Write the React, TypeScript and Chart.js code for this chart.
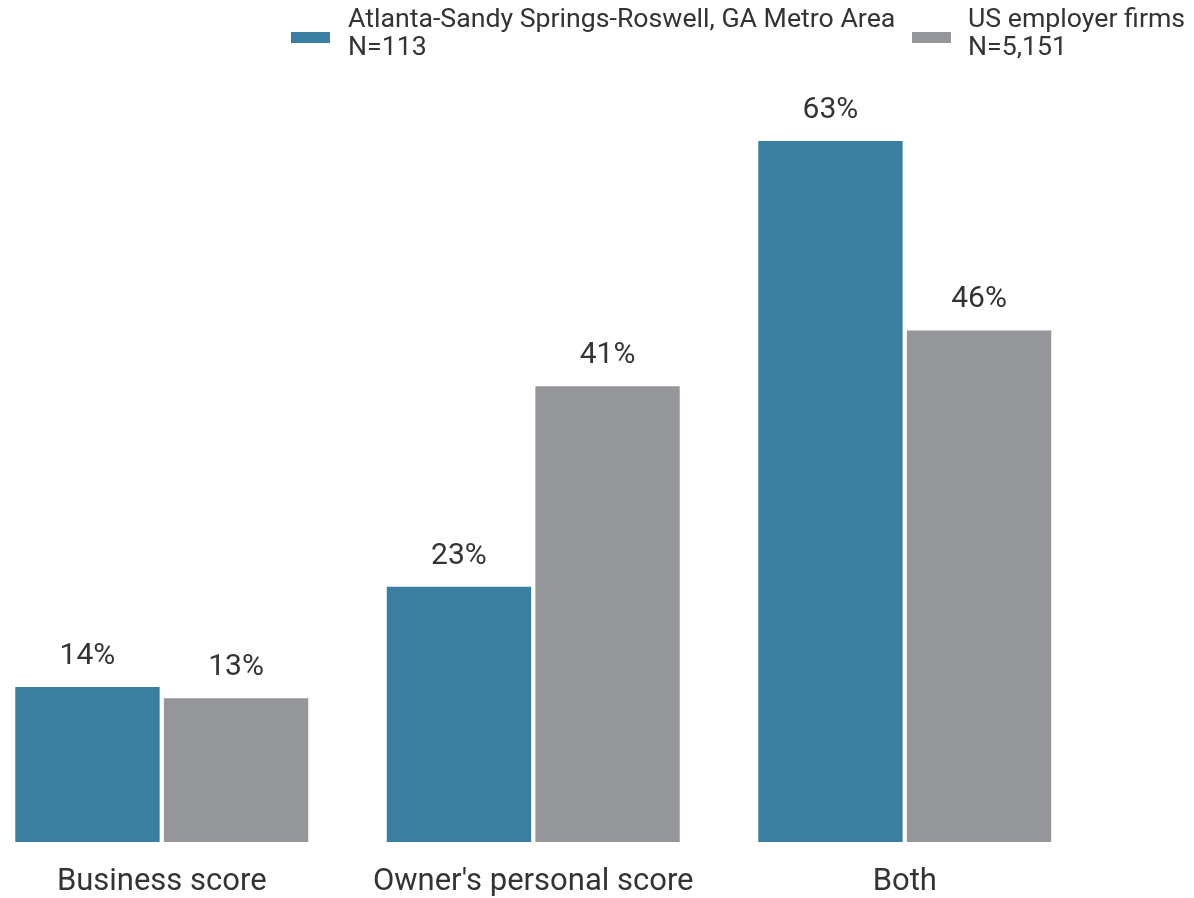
import React, { useEffect, useRef } from "react";
import { Chart, registerables } from "chart.js";

Chart.register(...registerables);

const categories = ["Business score", "Owner's personal score", "Both"];
const atlantaValues = [14, 23, 63];
const usValues = [13, 41, 46];
const legendLabels = [
  ["Atlanta-Sandy Springs-Roswell, GA Metro Area", "N=113"],
  ["US employer firms", "N=5,151"],
];
const colors = ["#3a7ea1", "#959699"];
const textColor = "#333333";

const valueLabelPlugin = {
  id: "valueLabels",
  afterDatasetsDraw(chart: any) {
    const ctx = chart.ctx;
    ctx.save();
    ctx.font = "30px Roboto";
    ctx.fillStyle = textColor;
    ctx.textAlign = "center";
    ctx.textBaseline = "alphabetic";
    chart.data.datasets.forEach((ds: any, di: number) => {
      const meta = chart.getDatasetMeta(di);
      meta.data.forEach((bar: any, i: number) => {
        ctx.fillText(ds.data[i] + "%", bar.x, bar.y - 22);
      });
    });
    ctx.restore();
  },
};

export default function App() {
  const ref = useRef<HTMLCanvasElement>(null);
  useEffect(() => {
    if (!ref.current) return;
    const chart = new Chart(ref.current, {
      type: "bar",
      data: {
        labels: categories,
        datasets: [
          {
            label: legendLabels[0].join(" "),
            data: atlantaValues,
            backgroundColor: colors[0],
            borderColor: "rgba(255,255,255,0.45)",
            borderWidth: 1,
            categoryPercentage: 0.8,
            barPercentage: 0.985,
          },
          {
            label: legendLabels[1].join(" "),
            data: usValues,
            backgroundColor: colors[1],
            borderColor: "rgba(255,255,255,0.45)",
            borderWidth: 1,
            categoryPercentage: 0.8,
            barPercentage: 0.985,
          },
        ],
      },
      options: {
        responsive: false,
        animation: false,
        layout: { padding: { left: 0, right: 103.5, top: 62, bottom: 0.8 } },
        plugins: {
          legend: { display: false },
          tooltip: { enabled: false },
        },
        scales: {
          x: {
            grid: { display: false },
            border: { display: false },
            ticks: {
              color: textColor,
              font: { family: "Roboto", size: 31 },
              padding: 14,
              maxRotation: 0,
            },
          },
          y: {
            display: false,
            min: 0,
            max: 70,
          },
        },
      },
      plugins: [valueLabelPlugin],
    });
    return () => chart.destroy();
  }, []);

  const legendItem = (i: number, boxLeft: number, textLeft: number) => (
    <div key={i}>
      <div
        style={{
          position: "fixed",
          left: boxLeft,
          top: 32,
          width: 39,
          height: 11,
          background: colors[i],
        }}
      />
      <div
        style={{
          position: "fixed",
          left: textLeft,
          top: 4,
          fontFamily: "Roboto",
          fontSize: 26.7,
          lineHeight: "28px",
          color: textColor,
          whiteSpace: "nowrap",
        }}
      >
        {legendLabels[i].map((t, j) => (
          <div key={j}>{t}</div>
        ))}
      </div>
    </div>
  );

  return (
    <div style={{ position: "fixed", left: 0, top: 0, width: 1194, height: 898, overflow: "hidden" }}>
      <canvas
        ref={ref}
        width={1218}
        height={916}
        style={{ position: "absolute", left: -24, top: 0, width: 1218, height: 916 }}
      />
      {legendItem(0, 291, 348)}
      {legendItem(1, 912, 968)}
    </div>
  );
}
